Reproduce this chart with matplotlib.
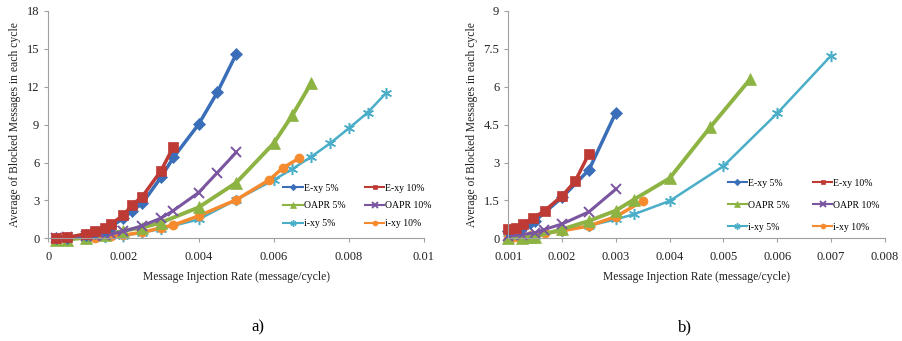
import matplotlib
matplotlib.use('Agg')
import matplotlib.pyplot as plt

plt.rcParams['font.family'] = ['Liberation Serif', 'DejaVu Serif']

# ---- chart a) ----
a_exy5_x = [0.0002, 0.0005, 0.001, 0.00125, 0.0015, 0.00167, 0.002, 0.00222, 0.0025, 0.003, 0.00333, 0.004, 0.0045, 0.005]
a_exy5_y = [0.02, 0.05, 0.3, 0.45, 0.7, 0.95, 1.58, 2.15, 2.77, 4.83, 6.4, 9.02, 11.56, 14.57]
a_exy10_x = [0.0002, 0.0005, 0.001, 0.00125, 0.0015, 0.00167, 0.002, 0.00222, 0.0025, 0.003, 0.00333]
a_exy10_y = [0.05, 0.07, 0.36, 0.59, 0.84, 1.15, 1.82, 2.62, 3.3, 5.35, 7.25]
a_oapr5_x = [0.0002, 0.0005, 0.001, 0.0015, 0.002, 0.0025, 0.003, 0.004, 0.005, 0.006, 0.0065, 0.007]
a_oapr5_y = [-0.1, -0.1, 0.05, 0.3, 0.6, 0.85, 1.25, 2.45, 4.4, 7.52, 9.76, 12.3]
a_oapr10_x = [0.0002, 0.0005, 0.001, 0.00125, 0.0015, 0.00167, 0.002, 0.0025, 0.003, 0.00333, 0.004, 0.0045, 0.005]
a_oapr10_y = [0.05, 0.08, 0.15, 0.2, 0.28, 0.35, 0.55, 1.0, 1.6, 2.2, 3.62, 5.2, 6.8]
a_ixy5_x = [0.0002, 0.0005, 0.001, 0.0015, 0.002, 0.0025, 0.003, 0.004, 0.005, 0.006, 0.0065, 0.007, 0.0075, 0.008, 0.0085, 0.009]
a_ixy5_y = [0.0, 0.0, 0.05, 0.1, 0.22, 0.45, 0.75, 1.5, 3.05, 4.62, 5.5, 6.46, 7.52, 8.71, 9.95, 11.53]
a_ixy10_x = [0.0002, 0.0005, 0.001, 0.00125, 0.00167, 0.002, 0.0025, 0.003, 0.00333, 0.004, 0.005, 0.00588, 0.00625, 0.00667]
a_ixy10_y = [0.0, 0.0, 0.05, 0.05, 0.18, 0.26, 0.47, 0.84, 1.05, 1.77, 3.05, 4.62, 5.59, 6.33]

# ---- chart b) ----
b_exy5_x = [0.001, 0.00125, 0.0014, 0.0015, 0.002, 0.0025, 0.003]
b_exy5_y = [0.3, 0.44, 0.59, 0.7, 1.62, 2.71, 4.98]
b_exy10_x = [0.001, 0.00114, 0.00127, 0.00145, 0.00168, 0.002, 0.00224, 0.0025]
b_exy10_y = [0.36, 0.42, 0.56, 0.79, 1.1, 1.68, 2.25, 3.35]
b_oapr5_x = [0.001, 0.00125, 0.0014, 0.0015, 0.002, 0.0025, 0.003, 0.00333, 0.004, 0.00475, 0.0055]
b_oapr5_y = [0.0, 0.03, 0.05, 0.07, 0.36, 0.69, 1.1, 1.53, 2.38, 4.39, 6.31]
b_oapr10_x = [0.001, 0.00125, 0.0015, 0.00167, 0.002, 0.0025, 0.003]
b_oapr10_y = [0.08, 0.15, 0.22, 0.35, 0.57, 1.05, 1.95]
b_ixy5_x = [0.001, 0.0015, 0.002, 0.0025, 0.003, 0.00333, 0.004, 0.005, 0.006, 0.007]
b_ixy5_y = [0.0, 0.1, 0.3, 0.5, 0.75, 0.95, 1.48, 2.86, 4.95, 7.23]
b_ixy10_x = [0.001, 0.0011, 0.0012, 0.00143, 0.00168, 0.002, 0.0025, 0.003, 0.0035]
b_ixy10_y = [0.03, 0.05, 0.07, 0.13, 0.2, 0.3, 0.49, 0.86, 1.48]

labels = ['E-xy 5%', 'E-xy 10%', 'OAPR 5%', 'OAPR 10%', 'i-xy 5%', 'i-xy 10%']
colors = ['#3A6EB8', '#BE3A35', '#8DB443', '#7A55A0', '#4BAEC8', '#F58A2E']
markers = ['D', 's', '^', 'x', (6, 2, 0), 'o']
msizes = [6, 6.5, 8, 7, 8, 6.5]
mews = [0.5, 0.5, 0.5, 1.4, 1.1, 0.5]
lwidths = [2.5, 2.5, 2.8, 2.2, 1.8, 2.5]

fig = plt.figure(figsize=(9.03, 3.41), dpi=100)
ax1 = fig.add_axes([0.0535, 0.301, 0.416, 0.667])
ax2 = fig.add_axes([0.5629, 0.301, 0.417, 0.667])

a_series = [(a_exy5_x, a_exy5_y), (a_exy10_x, a_exy10_y), (a_oapr5_x, a_oapr5_y),
            (a_oapr10_x, a_oapr10_y), (a_ixy5_x, a_ixy5_y), (a_ixy10_x, a_ixy10_y)]
b_series = [(b_exy5_x, b_exy5_y), (b_exy10_x, b_exy10_y), (b_oapr5_x, b_oapr5_y),
            (b_oapr10_x, b_oapr10_y), (b_ixy5_x, b_ixy5_y), (b_ixy10_x, b_ixy10_y)]

# draw order: blue, red on top of cyan/orange as in reference
order = [4, 5, 2, 3, 0, 1]
# legend is filled column by column, so this gives rows E-xy / OAPR / i-xy
leg_order = [0, 2, 4, 1, 3, 5]
leg_pos = {1: (1.021, 0.045, 0.9, 2.0), 2: (0.987, 0.029, 1.35, 2.4)}

for k, (ax, series) in enumerate([(ax1, a_series), (ax2, b_series)], start=1):
    handles = {}
    for i in order:
        xs, ys = series[i]
        line, = ax.plot(xs, ys, color=colors[i], marker=markers[i], markersize=msizes[i],
                        linewidth=lwidths[i], markeredgewidth=mews[i],
                        label=labels[i], clip_on=False)
        handles[i] = line
    for s in ['top', 'right']:
        ax.spines[s].set_visible(False)
    for s in ['left', 'bottom']:
        ax.spines[s].set_color('#A0A0A0')
        ax.spines[s].set_linewidth(0.8)
    ax.tick_params(axis='both', labelsize=9, colors='#A0A0A0', labelcolor='#222222',
                   length=3, width=0.8)
    ax.tick_params(axis='x', pad=6)
    ax.set_xlabel('Message Injection Rate (message/cycle)', fontsize=8.4, color='#222222',
                  labelpad=6)
    ax.set_ylabel('Average of Blocked Messages in each cycle', fontsize=8.4, color='#222222')
    bx, by, lsp, csp = leg_pos[k]
    leg = ax.legend([handles[i] for i in leg_order], [labels[i] for i in leg_order], ncol=2,
                    frameon=False, fontsize=7, loc='lower right', bbox_to_anchor=(bx, by),
                    borderaxespad=0, borderpad=0, handlelength=2.0, columnspacing=csp,
                    labelspacing=lsp, markerscale=0.55, handletextpad=0.1)
    for hl in leg.get_lines():
        hl.set_linewidth(1.5)

ax1.set_xlim(0, 0.01)
ax1.set_ylim(0, 18)
ax1.set_xticks([0, 0.002, 0.004, 0.006, 0.008, 0.01])
ax1.set_xticklabels(['0', '0.002', '0.004', '0.006', '0.008', '0.01'])
ax1.set_yticks([0, 3, 6, 9, 12, 15, 18])

ax2.set_xlim(0.001, 0.008)
ax2.set_ylim(0, 9)
ax2.set_xticks([0.001, 0.002, 0.003, 0.004, 0.005, 0.006, 0.007, 0.008])
ax2.set_xticklabels(['0.001', '0.002', '0.003', '0.004', '0.005', '0.006', '0.007', '0.008'])
ax2.set_yticks([0, 1.5, 3, 4.5, 6, 7.5, 9])
ax2.set_yticklabels(['0', '1.5', '3', '4.5', '6', '7.5', '9'])

fig.text(0.286, 0.04, 'a)', fontsize=12, ha='center', va='center')
fig.text(0.759, 0.04, 'b)', fontsize=12, ha='center', va='center')

fig.savefig('out.png', dpi=100)
